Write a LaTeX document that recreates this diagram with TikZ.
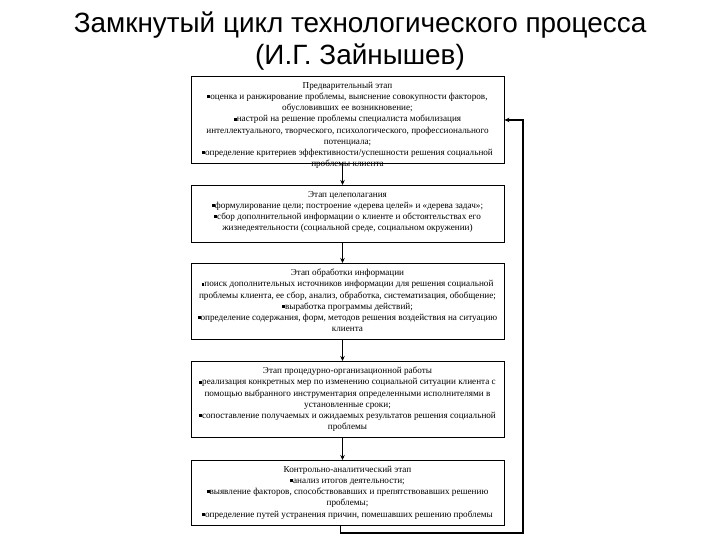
\documentclass[tikz,border=0pt]{standalone}
\usepackage{fontspec}
\setmainfont{Liberation Serif}
\newfontfamily\titlefont{Liberation Sans}
\usetikzlibrary{arrows.meta}
\newcommand\sq{\rule[0.15em]{0.32em}{0.32em}}

\begin{document}
\begin{tikzpicture}[x=1bp, y=-1bp,
  stage/.style={draw, line width=0.9bp, minimum width=313bp, inner sep=0pt, anchor=north},
  stagetext/.style={anchor=north, inner sep=0pt, align=center, font=\fontsize{9.2}{11.2}\selectfont},
  headline/.style={font=\titlefont\fontsize{28}{30}\selectfont, anchor=base},
  flow/.style={line width=1.4bp, -{Stealth[length=5bp,width=4.5bp]}}]
  \useasboundingbox (0,0) rectangle (720,540);
  % title, two lines
  \node[headline] (title1) at (360,33) {Замкнутый цикл технологического процесса};
  \node[headline] (title2) at (360,65) {(И.Г. Зайнышев)};
  % stage frames (fixed size, text may run past the frame)
  \node[stage, minimum height=87bp] (s1) at (347.5,76) {};
  \node[stage, minimum height=57bp] (s2) at (347.5,185) {};
  \node[stage, minimum height=76bp] (s3) at (347.5,263) {};
  \node[stage, minimum height=76bp] (s4) at (347.5,361) {};
  \node[stage, minimum height=65bp] (s5) at (347.5,460) {};
  % stage texts
  \node[stagetext] (t1) at ([yshift=-6bp]s1.north) {Предварительный этап\\
    \sq оценка и ранжирование проблемы, выяснение совокупности факторов,\\
    обусловивших ее возникновение;\\
    \sq настрой на решение проблемы специалиста мобилизация\\
    интеллектуального, творческого, психологического, профессионального\\
    потенциала;\\
    \sq определение критериев эффективности/успешности решения социальной\\
    проблемы клиента};
  \node[stagetext] (t2) at ([yshift=-6bp]s2.north) {Этап целеполагания\\
    \sq формулирование цели; построение «дерева целей» и «дерева задач»;\\
    \sq сбор дополнительной информации о клиенте и обстоятельствах его\\
    жизнедеятельности (социальной среде, социальном окружении)};
  \node[stagetext] (t3) at ([yshift=-6bp]s3.north) {Этап обработки информации\\
    \sq поиск дополнительных источников информации для решения социальной\\
    проблемы клиента, ее сбор, анализ, обработка, систематизация, обобщение;\\
    \sq выработка программы действий;\\
    \sq определение содержания, форм, методов решения воздействия на ситуацию\\
    клиента};
  \node[stagetext] (t4) at ([yshift=-6bp]s4.north) {Этап процедурно-организационной работы\\
    \sq реализация конкретных мер по изменению социальной ситуации клиента с\\
    помощью выбранного инструментария определенными исполнителями в\\
    установленные сроки;\\
    \sq сопоставление получаемых и ожидаемых результатов решения социальной\\
    проблемы};
  \node[stagetext] (t5) at ([yshift=-6bp]s5.north) {Контрольно-аналитический этап\\
    \sq анализ итогов деятельности;\\
    \sq выявление факторов, способствовавших и препятствовавших решению\\
    проблемы;\\
    \sq определение путей устранения причин, помешавших решению проблемы};
  % arrows down the chain
  \draw[flow] ([xshift=-5bp]s1.south) -- ([xshift=-5bp]s2.north);
  \draw[flow] ([xshift=-5bp]s2.south) -- ([xshift=-5bp]s3.north);
  \draw[flow] ([xshift=-5bp]s3.south) -- ([xshift=-5bp]s4.north);
  \draw[flow] ([xshift=-5bp]s4.south) -- ([xshift=-5bp]s5.north);
  % feedback loop back to the first stage
  \coordinate (loop) at (523,533);
  \draw[flow] ([xshift=-7bp]s5.south) |- (loop) |- (s1.east);
\end{tikzpicture}
\end{document}
